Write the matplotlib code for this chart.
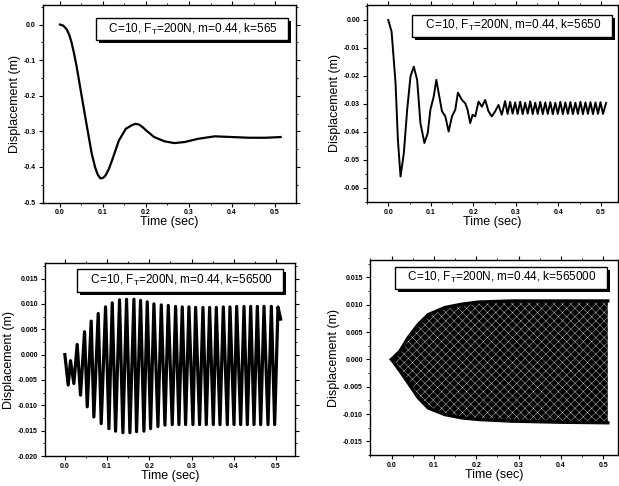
import numpy as np
import matplotlib
matplotlib.use('Agg')
import matplotlib.pyplot as plt
import matplotlib.patheffects as pe
from matplotlib.ticker import MultipleLocator, FormatStrFormatter

plt.rcParams['font.family'] = ['Liberation Sans', 'DejaVu Sans']
plt.rcParams['mathtext.default'] = 'regular'
plt.rcParams['axes.unicode_minus'] = False
plt.rcParams['hatch.linewidth'] = 0.25

# k = 565 : smooth damped response
t565 = [0.0, 0.008, 0.016, 0.022, 0.027, 0.033, 0.039, 0.051, 0.063, 0.074, 0.082, 0.088, 0.094,
        0.100, 0.106, 0.114, 0.121, 0.137, 0.153, 0.168, 0.176, 0.184, 0.192, 0.200, 0.219, 0.243,
        0.266, 0.290, 0.321, 0.360, 0.400, 0.439, 0.478, 0.513]
x565 = [0.0, -0.003, -0.014, -0.030, -0.050, -0.082, -0.119, -0.204, -0.288, -0.363, -0.402, -0.422, -0.432,
        -0.431, -0.424, -0.405, -0.382, -0.326, -0.293, -0.282, -0.279, -0.281, -0.288, -0.297, -0.316, -0.328,
        -0.333, -0.330, -0.321, -0.314, -0.316, -0.318, -0.318, -0.316]

# k = 5650 : decaying oscillation with small ripple
t5650 = [0.0, 0.0078, 0.0171, 0.0226, 0.0288, 0.0366, 0.0444, 0.0522, 0.0600, 0.0678,
         0.0756, 0.0849, 0.0927, 0.0990, 0.1068, 0.1130, 0.1185, 0.1263, 0.1341, 0.1419,
         0.1497, 0.1575, 0.1637, 0.1731, 0.1809, 0.1864, 0.1926, 0.1981, 0.2044, 0.2122,
         0.2200, 0.2278, 0.2356, 0.2434, 0.2512, 0.2590, 0.2668, 0.2746,
         0.2805, 0.2864, 0.2923, 0.2982, 0.3041, 0.3100, 0.3159, 0.3218, 0.3277, 0.3336,
         0.3395, 0.3454, 0.3513, 0.3572, 0.3631, 0.3690, 0.3749, 0.3808, 0.3867, 0.3926,
         0.3985, 0.4044, 0.4103, 0.4162, 0.4221, 0.4280, 0.4339, 0.4398, 0.4457, 0.4516,
         0.4575, 0.4634, 0.4693, 0.4752, 0.4811, 0.4870, 0.4929, 0.4988, 0.5047, 0.5120]
x5650 = [0.0, -0.0042, -0.0226, -0.0429, -0.0560, -0.0476, -0.0321, -0.0202, -0.0167, -0.0214,
         -0.0369, -0.0440, -0.0405, -0.0321, -0.0274, -0.0214, -0.0262, -0.0327, -0.0345, -0.0399,
         -0.0345, -0.0321, -0.0260, -0.0286, -0.0298, -0.0321, -0.0369, -0.0339, -0.0345, -0.0292,
         -0.0310, -0.0286, -0.0327, -0.0345, -0.0327, -0.0304, -0.0339, -0.0290,
         -0.0336, -0.0293, -0.0335, -0.0295, -0.0336, -0.0292, -0.0337, -0.0296, -0.0335, -0.0291,
         -0.0337, -0.0296, -0.0336, -0.0293, -0.0337, -0.0295, -0.0336, -0.0294, -0.0337, -0.0296,
         -0.0336, -0.0293, -0.0337, -0.0295, -0.0336, -0.0294, -0.0337, -0.0296, -0.0336, -0.0293,
         -0.0337, -0.0295, -0.0336, -0.0294, -0.0337, -0.0295, -0.0336, -0.0294, -0.0336, -0.0297]

# k = 56500 : peaks and troughs of the fast oscillation
t56500 = [0.0, 0.0079, 0.0134, 0.0213, 0.0292, 0.0371, 0.0466, 0.0530, 0.0624, 0.0687,
          0.0790, 0.0861, 0.0964, 0.1043, 0.1122, 0.1201, 0.1295, 0.1374, 0.1461, 0.1540,
          0.1635, 0.1698, 0.1793, 0.1872, 0.1951, 0.2030, 0.2109, 0.2204, 0.2283, 0.2370,
          0.2449, 0.2543, 0.2622, 0.2701, 0.2780, 0.2859, 0.2938, 0.3033, 0.3096, 0.3191,
          0.3270, 0.3349, 0.3428, 0.3515, 0.3586, 0.3673, 0.3752, 0.3847, 0.3910, 0.4005,
          0.4068, 0.4163, 0.4242, 0.4321, 0.4400, 0.4479, 0.4558, 0.4637, 0.4716, 0.4810,
          0.4889, 0.4968, 0.5047, 0.5110]
x56500 = [0.0, -0.0060, -0.0012, -0.0057, 0.0020, -0.0080, 0.0045, -0.0103, 0.0066, -0.0123,
          0.0081, -0.0136, 0.0094, -0.0146, 0.0102, -0.0151, 0.0108, -0.0154, 0.0109, -0.0154,
          0.0109, -0.0152, 0.0107, -0.0151, 0.0104, -0.0146, 0.0100, -0.0142, 0.0098, -0.0139,
          0.0097, -0.0138, 0.0095, -0.0138, 0.0094, -0.0138, 0.0094, -0.0138, 0.0093, -0.0138,
          0.0093, -0.0138, 0.0093, -0.0138, 0.0093, -0.0138, 0.0094, -0.0138, 0.0094, -0.0138,
          0.0095, -0.0138, 0.0095, -0.0138, 0.0095, -0.0138, 0.0095, -0.0138, 0.0095, -0.0138,
          0.0095, -0.0138, 0.0094, 0.0070]

# k = 565000 : envelope of the very dense oscillation
t565000 = [0.0, 0.0197, 0.0394, 0.063, 0.0867, 0.126, 0.1655, 0.205, 0.284, 0.40, 0.511]
upper565000 = [0.0, 0.0015, 0.0040, 0.0064, 0.0082, 0.0095, 0.0101, 0.0105, 0.0107, 0.0107, 0.0107]
lower565000 = [0.0, -0.0021, -0.0043, -0.0070, -0.0089, -0.0101, -0.0107, -0.0110, -0.0113, -0.0115, -0.0116]

labels = ["C=10, F$_T$=200N, m=0.44, k=565",
          "C=10, F$_T$=200N, m=0.44, k=5650",
          "C=10, F$_T$=200N, m=0.44, k=56500",
          "C=10, F$_T$=200N, m=0.44, k=565000"]

fig = plt.figure(figsize=(6.19, 4.86), dpi=100)
ax1 = fig.add_axes([0.069, 0.5833, 0.4087, 0.4064])
ax2 = fig.add_axes([0.5929, 0.585, 0.4055, 0.405])
ax3 = fig.add_axes([0.0727, 0.0617, 0.4039, 0.3965])
ax4 = fig.add_axes([0.5977, 0.0638, 0.4006, 0.4012])

ax1.plot(t565, x565, color='k', lw=1.6)
ax2.plot(t5650, x5650, color='k', lw=1.4)
ax3.plot(t56500, x56500, color='k', lw=2.3)
ax4.fill_between(t565000, lower565000, upper565000, facecolor='k',
                 edgecolor='white', hatch='xxxx', linewidth=0)
ax4.plot(t565000, upper565000, color='k', lw=2.4)
ax4.plot(t565000, lower565000, color='k', lw=2.4)

setup = [
  (ax1, (-0.04, 0.548), (-0.5, 0.055), 0.1, 0.05, '%.1f', (0.590, 0.878)),
  (ax2, (-0.05, 0.54), (-0.065, 0.0054), 0.01, 0.005, '%.2f', (0.578, 0.893)),
  (ax3, (-0.047, 0.545), (-0.020, 0.018), 0.005, 0.0025, '%.3f', (0.540, 0.911)),
  (ax4, (-0.051, 0.535), (-0.0175, 0.0182), 0.005, 0.0025, '%.3f', (0.528, 0.908)),
]
for (ax, xl, yl, ymaj, ymin, yfmt, tpos), lab in zip(setup, labels):
  ax.set_xlim(xl)
  ax.set_ylim(yl)
  ax.xaxis.set_major_locator(MultipleLocator(0.1))
  ax.xaxis.set_minor_locator(MultipleLocator(0.05))
  ax.xaxis.set_major_formatter(FormatStrFormatter('%.1f'))
  ax.yaxis.set_major_locator(MultipleLocator(ymaj))
  ax.yaxis.set_minor_locator(MultipleLocator(ymin))
  ax.yaxis.set_major_formatter(FormatStrFormatter(yfmt))
  ax.tick_params(which='both', direction='out', top=True, right=True,
                 labelsize=5, pad=2)
  ax.tick_params(which='major', length=3, width=0.8)
  ax.tick_params(which='minor', length=1.5, width=0.6)
  for lbl in ax.get_xticklabels() + ax.get_yticklabels():
    lbl.set_fontweight('bold')
  for s in ax.spines.values():
    s.set_linewidth(1.0)
  ax.set_xlabel("Time (sec)", fontsize=9, labelpad=0)
  ax.set_ylabel("Displacement (m)", fontsize=9, labelpad=2)
  # label box with a solid drop shadow
  txt = ax.text(tpos[0], tpos[1], "   " + lab + "   ", transform=ax.transAxes,
                fontsize=8.5, ha='center', va='center', color='k',
                bbox=dict(boxstyle='square,pad=0.3', fc='white', ec='k', lw=1))
  txt.get_bbox_patch().set_path_effects(
      [pe.SimplePatchShadow(offset=(2.2, -2.2), shadow_rgbFace='k', alpha=1.0),
       pe.Normal()])

fig.savefig("out.png", dpi=100)
